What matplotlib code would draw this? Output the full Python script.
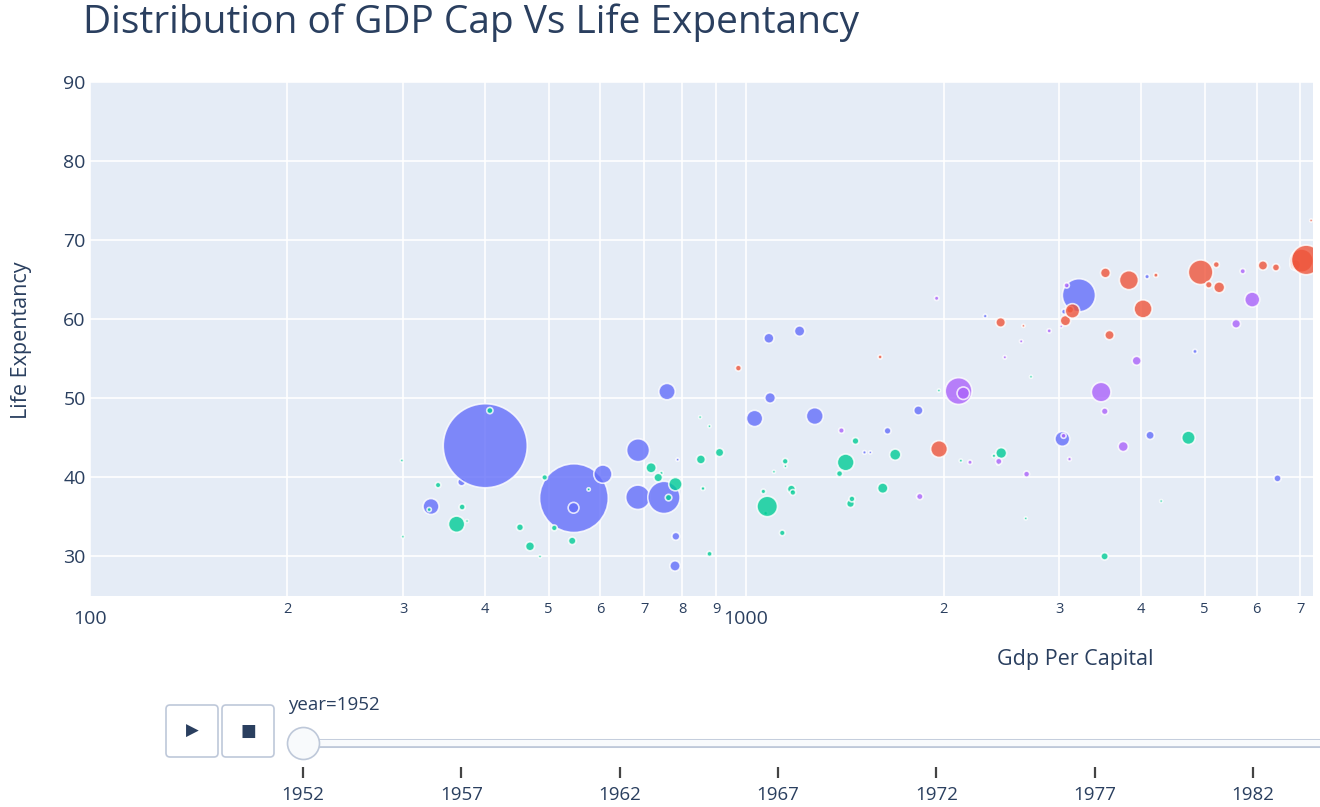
import numpy as np
import matplotlib
matplotlib.use("Agg")
import matplotlib.pyplot as plt
from matplotlib.patches import FancyBboxPatch

plt.rcParams['font.family'] = ['Open Sans', 'DejaVu Sans']

# gapminder, year 1952
continents = ["Asia", "Europe", "Africa", "Americas", "Oceania"]
continent_colors = ["#636efa", "#ef553b", "#00cc96", "#ab63fa", "#ffa15a"]

asia_life = [28.801, 50.939, 37.484, 39.417, 44.0, 60.96, 37.373, 37.468, 44.869, 45.32,
             65.39, 63.03, 43.158, 50.056, 47.453, 55.565, 55.928, 48.463, 42.244, 36.319,
             36.157, 37.578, 43.436, 47.752, 39.875, 60.396, 57.593, 45.883, 58.5, 50.848,
             40.412, 43.16, 32.548]
asia_pop = [8425333, 120447, 46886859, 4693836, 556263527, 2125900, 372000000, 82052000,
            17272000, 5441766, 1620914, 86459025, 607914, 8865488, 20947571, 160000,
            1439529, 6748378, 800663, 20092996, 9182536, 507833, 41346560, 22438691,
            4005677, 1127000, 7982342, 3661549, 8550362, 21289402, 26246839, 1030585, 4963829]
asia_gdp = [779.4, 9867.1, 684.2, 368.5, 400.4, 3054.4, 546.6, 749.7, 3035.3, 4129.8,
            4086.5, 3217.0, 1546.9, 1088.3, 1030.6, 108382.4, 4834.8, 1831.1, 786.6, 331.0,
            545.9, 1828.2, 684.6, 1272.9, 6459.6, 2315.1, 1083.5, 1643.5, 1206.9, 757.8,
            605.1, 1515.6, 781.7]

europe_life = [55.23, 66.8, 68.0, 53.82, 59.6, 61.21, 66.87, 70.78, 66.55, 67.41,
               67.5, 65.86, 64.03, 72.49, 66.91, 65.94, 59.164, 72.13, 72.67, 61.31,
               59.82, 61.05, 57.996, 64.36, 65.57, 64.94, 71.86, 69.62, 43.585, 69.18]
europe_pop = [1282697, 6927772, 8730405, 2791000, 7274900, 3882229, 9125183, 4334000,
              4090500, 42459667, 69145952, 7733250, 9504000, 147962, 2952156, 47666000,
              413834, 10381988, 3327728, 25730551, 8526050, 16630000, 6860147, 3558137,
              1489518, 28549870, 7124673, 4815000, 22235677, 50430000]
europe_gdp = [1601.1, 6137.1, 8343.1, 973.5, 2444.3, 3119.2, 6876.1, 9692.4, 6424.5, 7029.8,
              7144.1, 3530.7, 5263.7, 7267.7, 5210.3, 4931.4, 2647.6, 8941.6, 10095.4, 4029.3,
              3068.3, 3144.6, 3581.5, 5074.7, 4215.0, 3834.0, 8527.8, 14734.2, 1969.1, 9979.5]

africa_life = [43.077, 30.015, 38.223, 47.622, 31.975, 39.031, 38.523, 35.463, 38.092, 40.715,
               39.143, 42.111, 40.477, 34.812, 41.893, 34.482, 35.928, 34.078, 37.003, 30.0,
               43.149, 33.609, 32.5, 42.27, 42.138, 38.48, 42.723, 36.681, 36.256, 33.685,
               40.543, 50.986, 42.873, 31.286, 41.725, 37.444, 36.324, 52.724, 40.0, 46.471,
               37.278, 30.331, 32.978, 45.009, 38.635, 41.407, 41.215, 38.596, 44.6, 39.978,
               42.038, 48.451]
africa_pop = [9279525, 4232095, 1738315, 442308, 4469979, 2445618, 5009067, 1291695, 2682462,
              153936, 14100005, 854885, 2977019, 63149, 22223309, 216964, 1438760, 20860941,
              420702, 284320, 5581001, 2664249, 580653, 6464046, 748747, 863308, 1019729,
              4762912, 2917802, 3838168, 1022556, 516556, 9939217, 6446316, 485831, 3379468,
              33119096, 257700, 2534927, 60011, 2755589, 2143249, 2526994, 14264935, 8504667,
              290243, 8322925, 1219113, 3647735, 5824797, 2672000, 3080907]
africa_gdp = [2449.0, 3520.6, 1062.8, 851.2, 543.3, 339.3, 1172.7, 1071.3, 1178.7, 1103.0,
              780.5, 2125.6, 1388.6, 2669.5, 1418.8, 375.6, 328.9, 362.1, 4293.5, 485.2,
              911.3, 510.2, 299.9, 853.5, 298.8, 575.6, 2387.5, 1443.0, 369.2, 452.3,
              743.1, 1968.0, 1688.2, 468.5, 2423.8, 761.9, 1077.3, 2718.9, 493.3, 879.6,
              1450.4, 879.8, 1135.7, 4725.3, 1616.0, 1148.4, 716.7, 859.8, 1468.5, 734.8,
              1147.4, 406.9]

americas_life = [62.485, 40.414, 50.917, 68.75, 54.745, 50.643, 57.206, 59.421, 45.928, 48.357,
                 45.262, 42.023, 37.579, 41.912, 58.53, 50.789, 42.314, 55.191, 62.649, 43.902,
                 64.28, 59.1, 68.44, 66.071, 55.088]
americas_pop = [17876956, 2883315, 56602560, 14785584, 6377619, 12350771, 926317, 6007797,
                2491346, 3548753, 2042865, 3146381, 3201488, 1517453, 1426095, 30144317,
                1165790, 940080, 1555876, 8025700, 2227000, 662850, 157553000, 2252965, 5439568]
americas_gdp = [5911.3, 2677.3, 2108.9, 11367.2, 3940.0, 2144.1, 2627.0, 5586.5, 1397.7, 3522.1,
                3048.3, 2428.2, 1840.4, 2194.9, 2898.5, 3478.1, 3112.4, 2480.4, 1952.3, 3758.5,
                3082.0, 3023.3, 13990.5, 5716.8, 7689.8]

oceania_life = [69.12, 69.39]
oceania_pop = [8691212, 1994794]
oceania_gdp = [10039.6, 10556.6]

years = [1952, 1957, 1962, 1967, 1972, 1977, 1982, 1987, 1992, 1997, 2002, 2007]

life_by_cont = [asia_life, europe_life, africa_life, americas_life, oceania_life]
pop_by_cont = [asia_pop, europe_pop, africa_pop, americas_pop, oceania_pop]
gdp_by_cont = [asia_gdp, europe_gdp, africa_gdp, americas_gdp, oceania_gdp]

W, H = 1320, 807
text_col = "#2a3f5f"
fig = plt.figure(figsize=(W / 100, H / 100), dpi=100)

# main plot area (pixel box 90..1313 x 82..596)
ax = fig.add_axes([90 / W, 1 - 596 / H, (1313 - 90) / W, (596 - 82) / H])
ax.set_facecolor("#e5ecf6")
for s in ax.spines.values():
    s.set_visible(False)

max_pop = max(max(p) for p in pop_by_cont)
for name, col, lx, pp, gx in zip(continents, continent_colors, life_by_cont, pop_by_cont, gdp_by_cont):
    d = np.maximum(84 * np.sqrt(np.array(pp) / max_pop), 3.0)  # diameter px
    ax.scatter(gx, lx, s=(d * 0.72) ** 2, color=col, alpha=0.8,
               edgecolors=(1, 1, 1, 0.55), linewidths=1.2, zorder=3, label=name)

ax.set_xscale("log")
ax.set_xlim(100, 7316)
ax.set_ylim(25, 90)

ax.set_xticks([100, 1000])
ax.set_xticklabels(["100", "1000"])
minor = [m * 100 for m in range(2, 10)] + [m * 1000 for m in range(2, 8)]
ax.set_xticks(minor, minor=True)
ax.set_xticklabels([str(m // 100) if m < 1000 else str(m // 1000) for m in minor], minor=True)
ax.tick_params(axis="x", which="major", length=0, pad=10, labelsize=14, labelcolor=text_col)
ax.tick_params(axis="x", which="minor", length=0, pad=4, labelsize=10.5, labelcolor=text_col)
ax.set_yticks([30, 40, 50, 60, 70, 80, 90])
ax.tick_params(axis="y", length=0, pad=3, labelsize=14, labelcolor=text_col)
ax.grid(True, which="both", color="white", linewidth=1.2)
ax.set_axisbelow(True)

fig.text(83 / W, 1 - 23 / H, "Distribution of GDP Cap Vs Life Expentancy",
         fontsize=28, color=text_col, va="center", ha="left")
fig.text(1075 / W, 1 - 660 / H, "Gdp Per Capital", fontsize=15.5, color=text_col,
         ha="center", va="center")
fig.text(22 / W, 1 - 340 / H, "Life Expentancy", fontsize=15.5, color=text_col,
         ha="center", va="center", rotation=90)

# overlay in pixel coords for buttons
ov = fig.add_axes([0, 0, 1, 1], facecolor="none")
ov.set_xlim(0, W)
ov.set_ylim(H, 0)
ov.axis("off")
for x0, sym, fs in [(166, "\u25B6", 12), (222, "\u25A0", 12)]:
    ov.add_patch(FancyBboxPatch((x0 + 3, 708), 46, 46, boxstyle="round,pad=3,rounding_size=4",
                                facecolor="white", edgecolor="#bec8d9", linewidth=1.2))
    ov.text(x0 + 26, 731, sym, ha="center", va="center", fontsize=fs, color=text_col,
            family=["DejaVu Sans"])

# slider: years mapped so 1952 -> 303 px, 1982 -> 1253 px
px_per_year = (1253 - 303) / 30
x_left = 1952 - 303 / px_per_year
x_right = 1952 + (W - 303) / px_per_year
sl = fig.add_axes([0, 0, 1, 1], facecolor="none")
sl.set_xlim(x_left, x_right)
sl.set_ylim(H, 0)
sl.axis("off")
sl.plot([years[0], years[-1]], [743, 743], color="#bec8d9", linewidth=6.5,
        solid_capstyle="round", zorder=1)
sl.plot([years[0], years[-1]], [743, 743], color="#f8fafc", linewidth=4.5,
        solid_capstyle="round", zorder=2)
sl.scatter([years[0]], [743], s=(32 * 0.72) ** 2, color="#f8fafc", edgecolors="#bec8d9",
           linewidths=1.2, zorder=3)
shown = [y for y in years if y + 30 / px_per_year < x_right]
sl.vlines(years, 767, 778, color="#444444", linewidth=1.6)
for y in shown:
    sl.text(y, 795, str(y), ha="center", va="center", fontsize=13.5, color=text_col)
sl.text(years[0] - 15 / px_per_year, 705, "year=%d" % years[0], ha="left", va="center",
        fontsize=13.5, color=text_col)

fig.savefig("out.png", dpi=100)
